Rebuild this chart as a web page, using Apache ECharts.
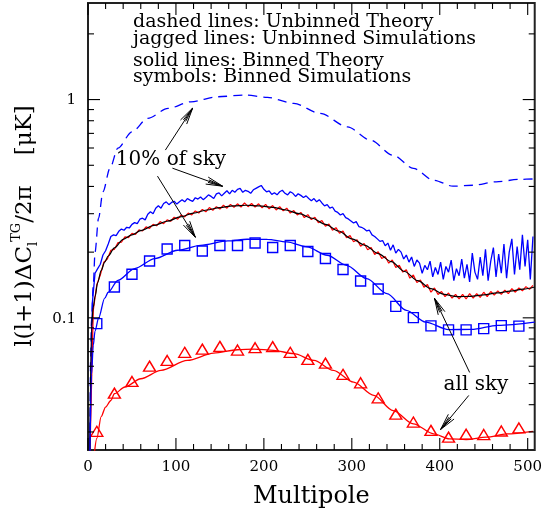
<!DOCTYPE html>
<html>
<head>
<meta charset="utf-8">
<script src="https://cdn.jsdelivr.net/npm/echarts@6/dist/echarts.min.js"></script>
<style>
html, body { margin: 0; padding: 0; background: #fff; }
#chart { width: 545px; height: 514px; }
</style>
</head>
<body>
<div id="chart"></div>
<script>
// ---- axis ranges and ticks ----
const X_MIN = 0, X_MAX = 508;
const Y_MIN = 0.0248, Y_MAX = 2.77;
const xMajorTicks = [0, 100, 200, 300, 400, 500];
const xMinorStep = 20;
const yMajorTicks = [0.1, 1];
const yTickLabels = ['0.1', '1'];
const yMinorTicks = [0.03, 0.04, 0.05, 0.06, 0.07, 0.08, 0.09,
                     0.2, 0.3, 0.4, 0.5, 0.6, 0.7, 0.8, 0.9, 2];

// ---- unbinned theory, 10% of sky (dashed) ----
const dashTheoryL = [2, 3, 4, 6, 8, 12, 17, 25, 34, 50, 68, 91, 117, 147, 178, 204, 234, 264,
                     295, 321, 347, 370, 393, 415, 438, 464, 491, 508];
const dashTheoryY = [0.022, 0.065, 0.099, 0.141, 0.2, 0.286, 0.378, 0.485, 0.599, 0.712, 0.82,
                     0.911, 0.977, 1.03, 1.049, 1.023, 0.961, 0.864, 0.75, 0.652, 0.556, 0.484,
                     0.427, 0.401, 0.405, 0.42, 0.431, 0.433];

// ---- unbinned simulation, 10% of sky (jagged blue), l = 2, 5, 8, ... ----
const blueSimStart = 2, blueSimStep = 3;
const blueSimY = [
  0.022, 0.118, 0.160, 0.168, 0.176, 0.194, 0.203, 0.218, 0.236, 0.240,
  0.238, 0.249, 0.255, 0.252, 0.260, 0.258, 0.268, 0.273, 0.270, 0.283,
  0.286, 0.281, 0.298, 0.306, 0.300, 0.318, 0.326, 0.318, 0.334, 0.340,
  0.330, 0.338, 0.342, 0.332, 0.340, 0.348, 0.340, 0.352, 0.346, 0.342,
  0.355, 0.350, 0.358, 0.348, 0.356, 0.366, 0.360, 0.352, 0.370, 0.374,
  0.362, 0.372, 0.382, 0.370, 0.384, 0.376, 0.388, 0.392, 0.376, 0.384,
  0.380, 0.372, 0.386, 0.392, 0.398, 0.404, 0.388, 0.378, 0.382, 0.368,
  0.374, 0.366, 0.378, 0.384, 0.372, 0.366, 0.378, 0.372, 0.360, 0.370,
  0.364, 0.356, 0.362, 0.352, 0.344, 0.352, 0.340, 0.348, 0.336, 0.326,
  0.330, 0.318, 0.322, 0.308, 0.304, 0.296, 0.300, 0.288, 0.284, 0.278,
  0.272, 0.276, 0.262, 0.260, 0.256, 0.250, 0.252, 0.240, 0.236, 0.230,
  0.224, 0.226, 0.214, 0.220, 0.204, 0.216, 0.198, 0.206, 0.200, 0.186,
  0.194, 0.180, 0.190, 0.172, 0.184, 0.178, 0.160, 0.174, 0.166, 0.182,
  0.154, 0.170, 0.158, 0.180, 0.150, 0.172, 0.162, 0.184, 0.148, 0.168,
  0.156, 0.186, 0.152, 0.176, 0.146, 0.198, 0.162, 0.150, 0.190, 0.156,
  0.206, 0.148, 0.182, 0.210, 0.154, 0.196, 0.160, 0.218, 0.152, 0.200,
  0.230, 0.158, 0.212, 0.166, 0.240, 0.172, 0.228, 0.150, 0.236
];

// ---- unbinned simulation, all sky (jagged red), l = 2, 6, 10, ... ----
const redSimStart = 2, redSimStep = 4;
const redSimY = [
  0.022, 0.108, 0.142, 0.157, 0.180, 0.186, 0.204, 0.206, 0.221, 0.222,
  0.235, 0.233, 0.244, 0.241, 0.253, 0.250, 0.261, 0.257, 0.268, 0.264,
  0.276, 0.270, 0.281, 0.277, 0.289, 0.283, 0.296, 0.290, 0.302, 0.296,
  0.309, 0.302, 0.314, 0.306, 0.320, 0.311, 0.323, 0.315, 0.328, 0.318,
  0.331, 0.321, 0.333, 0.322, 0.336, 0.323, 0.334, 0.322, 0.333, 0.319,
  0.331, 0.316, 0.327, 0.312, 0.323, 0.309, 0.318, 0.302, 0.310, 0.296,
  0.304, 0.288, 0.297, 0.282, 0.289, 0.273, 0.279, 0.263, 0.269, 0.252,
  0.259, 0.244, 0.250, 0.233, 0.238, 0.223, 0.228, 0.213, 0.219, 0.205,
  0.210, 0.195, 0.201, 0.187, 0.191, 0.178, 0.184, 0.170, 0.174, 0.162,
  0.166, 0.152, 0.157, 0.145, 0.149, 0.138, 0.142, 0.131, 0.137, 0.128,
  0.132, 0.125, 0.130, 0.123, 0.128, 0.122, 0.128, 0.122, 0.129, 0.123,
  0.129, 0.124, 0.131, 0.125, 0.132, 0.127, 0.133, 0.128, 0.134, 0.129,
  0.136, 0.131, 0.137, 0.133, 0.139, 0.135, 0.141
];

// ---- unbinned theory, all sky (black) ----
const allTheoryL = [2, 4, 6, 8, 11, 15, 19, 23, 30, 40, 50, 60, 75, 90, 105, 120, 135, 150, 165,
                    180, 195, 210, 225, 240, 255, 270, 285, 300, 315, 330, 345, 360, 375, 390,
                    405, 420, 435, 450, 465, 480, 495, 508];
const allTheoryY = [0.022, 0.092, 0.112, 0.125, 0.145, 0.165, 0.18, 0.192, 0.209, 0.229, 0.24,
                    0.251, 0.265, 0.277, 0.29, 0.302, 0.312, 0.32, 0.326, 0.328, 0.326, 0.321,
                    0.312, 0.30, 0.286, 0.268, 0.25, 0.23, 0.215, 0.197, 0.181, 0.163, 0.148,
                    0.136, 0.128, 0.125, 0.1255, 0.1275, 0.130, 0.1325, 0.1355, 0.1385];

// ---- binned theory (solid) ----
const blueBinTheoryL = [2, 4, 6, 8, 12, 19, 23, 34, 53, 76, 102, 128, 159, 181, 204, 226, 249,
                        272, 294, 317, 340, 362, 384, 410, 436, 466, 508];
const blueBinTheoryY = [0.022, 0.055, 0.075, 0.087, 0.0996, 0.123, 0.131, 0.1486, 0.1681, 0.1869,
                        0.204, 0.215, 0.225, 0.2291, 0.2287, 0.2227, 0.2113, 0.1935, 0.1741,
                        0.1513, 0.1291, 0.1082, 0.0956, 0.0883, 0.0885, 0.0924, 0.0956];
const redBinTheoryL = [7, 10, 15, 20, 26, 30, 42, 60, 83, 113, 143, 170, 189, 211, 234, 257, 279,
                       302, 325, 347, 370, 393, 411, 430, 453, 476, 506];
const redBinTheoryY = [0.0235, 0.028, 0.0353, 0.039, 0.0418, 0.0449, 0.0482, 0.0526, 0.0574,
                       0.0638, 0.0689, 0.0714, 0.0719, 0.0710, 0.0685, 0.0638, 0.0574, 0.0507,
                       0.0441, 0.0376, 0.0327, 0.0294, 0.0279, 0.0277, 0.0284, 0.0294, 0.0302];

// ---- binned simulations (symbols) ----
const binCentres = [10, 30, 50, 70, 90, 110, 130, 150, 170, 190, 210, 230, 250, 270, 290, 310,
                    330, 350, 370, 390, 410, 430, 450, 470, 490];
const blueBinSimY = [0.0941, 0.1384, 0.1583, 0.1822, 0.2068, 0.2144, 0.2025, 0.2144, 0.2144,
                     0.2203, 0.2099, 0.2144, 0.2012, 0.1871, 0.1665, 0.1475, 0.1355, 0.1129,
                     0.1002, 0.0919, 0.0881, 0.0881, 0.0892, 0.0921, 0.0916];
const redBinSimY = [0.0302, 0.0452, 0.0511, 0.0601, 0.0638, 0.0695, 0.0719, 0.0740, 0.0712,
                    0.0730, 0.0738, 0.0695, 0.0645, 0.0620, 0.0551, 0.0504, 0.0430, 0.0362,
                    0.0333, 0.0305, 0.0284, 0.0293, 0.0292, 0.0303, 0.0313];

// ---- annotation arrows: [l_from, y_from, l_to, y_to] ----
const skyArrows = [
  [88, 0.587, 119, 0.914],
  [96, 0.485, 153, 0.401],
  [79, 0.446, 122, 0.234],
  [434, 0.0562, 394, 0.1229],
  [433, 0.0441, 401, 0.0308]
];

const legendLines = [
  'dashed lines: Unbinned Theory',
  'jagged lines: Unbinned Simulations',
  'solid lines: Binned Theory',
  'symbols: Binned Simulations'
];

const SERIF = '"DejaVu Serif", "Liberation Serif", serif';
const BLUE = '#0000ff', RED = '#ff0000';

function pairs(xs, ys) { return xs.map((x, i) => [x, ys[i]]); }
function gridded(start, step, ys) { return ys.map((y, i) => [start + i * step, y]); }

// tick marks drawn on all four sides of the frame
const xTickData = [];
for (let v = X_MIN; v <= 500; v += xMinorStep) {
  xTickData.push([v, 1, xMajorTicks.indexOf(v) >= 0 ? 1 : 0]);
}
const yTickData = yMajorTicks.map(v => [X_MIN, v, 1]).concat(yMinorTicks.map(v => [X_MIN, v, 0]));

function renderXTick(params, api) {
  const cs = params.coordSys;
  const major = api.value(2) === 1;
  const len = major ? 12 : 6;
  const x = api.coord([api.value(0), Y_MIN])[0];
  const b = cs.y + cs.height, t = cs.y;
  const st = { stroke: '#000', lineWidth: 1.1 };
  return { type: 'group', children: [
    { type: 'line', shape: { x1: x, y1: b, x2: x, y2: b - len }, style: st },
    { type: 'line', shape: { x1: x, y1: t, x2: x, y2: t + len }, style: st }
  ]};
}

function renderYTick(params, api) {
  const cs = params.coordSys;
  const val = api.value(1);
  const major = api.value(2) === 1;
  const len = major ? 12 : 6;
  const y = api.coord([X_MIN, val])[1];
  const l = cs.x, r = cs.x + cs.width;
  const st = { stroke: '#000', lineWidth: 1.1 };
  const children = [
    { type: 'line', shape: { x1: l, y1: y, x2: l + len, y2: y }, style: st },
    { type: 'line', shape: { x1: r - len, y1: y, x2: r, y2: y }, style: st }
  ];
  if (major) {
    const idx = yMajorTicks.findIndex(m => Math.abs(m - val) < 1e-9);
    children.push({ type: 'text', x: l - 12, y: y + 1, style: {
      text: yTickLabels[idx], font: '15px ' + SERIF, fill: '#000',
      align: 'right', verticalAlign: 'middle' } });
  }
  return { type: 'group', children };
}

function renderArrow(params, api) {
  const p1 = api.coord([api.value(0), api.value(1)]);
  const p2 = api.coord([api.value(2), api.value(3)]);
  const ang = Math.atan2(p1[1] - p2[1], p1[0] - p2[0]);
  const barb = (a, L) => [p2[0] + L * Math.cos(ang + a), p2[1] + L * Math.sin(ang + a)];
  const st = { stroke: '#000', lineWidth: 1, fill: null };
  return { type: 'group', children: [
    { type: 'line', shape: { x1: p1[0], y1: p1[1], x2: p2[0], y2: p2[1] }, style: st },
    { type: 'polyline', shape: { points: [barb(0.22, 17), p2, barb(-0.22, 17)] }, style: st },
    { type: 'polyline', shape: { points: [barb(0.09, 15), p2, barb(-0.09, 15)] }, style: st }
  ]};
}

const chart = echarts.init(document.getElementById('chart'), null, { renderer: 'canvas' });

const legendGraphics = legendLines.map((t, i) => ({
  type: 'text', x: 133, y: [22, 39, 61, 77.5][i],
  style: { text: t, font: '19px ' + SERIF, fill: '#000', align: 'left', verticalAlign: 'middle' }
}));

chart.setOption({
  animation: false,
  backgroundColor: '#fff',
  grid: { left: 88, right: 8, top: 3, bottom: 64, show: true,
          borderColor: '#222', borderWidth: 2, backgroundColor: 'transparent' },
  xAxis: {
    type: 'value', min: X_MIN, max: X_MAX, interval: 100,
    axisLine: { show: false }, axisTick: { show: false }, splitLine: { show: false },
    axisLabel: { color: '#000', fontFamily: SERIF, fontSize: 15, margin: 10,
                 formatter: v => (v % 100 === 0 ? String(v) : '') },
    name: 'Multipole', nameLocation: 'middle', nameGap: 35,
    nameTextStyle: { color: '#000', fontFamily: SERIF, fontSize: 24 }
  },
  yAxis: {
    type: 'log', logBase: 10, min: Y_MIN, max: Y_MAX,
    axisLine: { show: false }, axisTick: { show: false }, splitLine: { show: false },
    axisLabel: { show: false }
  },
  graphic: legendGraphics.concat([
    { type: 'text', x: 171, y: 160,
      style: { text: '10% of sky', font: '20px ' + SERIF, fill: '#000', align: 'center', verticalAlign: 'middle' } },
    { type: 'text', x: 476, y: 385,
      style: { text: 'all sky', font: '20px ' + SERIF, fill: '#000', align: 'center', verticalAlign: 'middle' } },
    { type: 'text', x: 25, y: 226, rotation: Math.PI / 2,
      style: {
        text: '{n|l(l+1)ΔC}{sub|l}{sup|TG}{n|/2π}{gap|}{n|[μK]}',
        align: 'center', verticalAlign: 'middle', fill: '#000',
        rich: {
          n: { fontFamily: SERIF, fontSize: 23, lineHeight: 30, fill: '#000' },
          sub: { fontFamily: SERIF, fontSize: 13, lineHeight: 30, verticalAlign: 'bottom', fill: '#000' },
          sup: { fontFamily: SERIF, fontSize: 13, lineHeight: 30, verticalAlign: 'top', fill: '#000' },
          gap: { width: 30, lineHeight: 30 }
        }
      } }
  ]),
  series: [
    { name: 'Unbinned theory, 10% of sky', type: 'line', data: pairs(dashTheoryL, dashTheoryY),
      showSymbol: false, smooth: 0.3, smoothMonotone: 'x',
      lineStyle: { color: BLUE, width: 1.3, type: [9, 6] } },
    { name: 'Unbinned simulation, 10% of sky', type: 'line', data: gridded(blueSimStart, blueSimStep, blueSimY),
      showSymbol: false, lineStyle: { color: BLUE, width: 1.3 } },
    { name: 'Unbinned simulation, all sky', type: 'line', data: gridded(redSimStart, redSimStep, redSimY),
      showSymbol: false, lineStyle: { color: RED, width: 1.2 } },
    { name: 'Unbinned theory, all sky', type: 'line', data: pairs(allTheoryL, allTheoryY),
      showSymbol: false, smooth: 0.3, smoothMonotone: 'x', lineStyle: { color: '#000', width: 1.2 } },
    { name: 'Binned theory, 10% of sky', type: 'line', data: pairs(blueBinTheoryL, blueBinTheoryY),
      showSymbol: false, smooth: 0.3, smoothMonotone: 'x', lineStyle: { color: BLUE, width: 1.3 } },
    { name: 'Binned theory, all sky', type: 'line', data: pairs(redBinTheoryL, redBinTheoryY),
      showSymbol: false, smooth: 0.3, smoothMonotone: 'x', lineStyle: { color: RED, width: 1.3 } },
    { name: 'Binned simulation, 10% of sky', type: 'scatter', data: pairs(binCentres, blueBinSimY),
      symbol: 'rect', symbolSize: 10,
      itemStyle: { color: '#fff', borderColor: BLUE, borderWidth: 1.4, opacity: 1 } },
    { name: 'Binned simulation, all sky', type: 'scatter', data: pairs(binCentres, redBinSimY),
      symbol: 'triangle', symbolSize: [12, 10],
      itemStyle: { color: '#fff', borderColor: RED, borderWidth: 1.4, opacity: 1 } },
    { name: 'arrows', type: 'custom', data: skyArrows, renderItem: renderArrow, clip: false,
      encode: { x: [0, 2], y: [1, 3] }, silent: true, z: 5 },
    { name: 'x ticks', type: 'custom', data: xTickData, renderItem: renderXTick, clip: false,
      encode: { x: 0, y: 1 }, silent: true, z: 6 },
    { name: 'y ticks', type: 'custom', data: yTickData, renderItem: renderYTick, clip: false,
      encode: { x: 0, y: 1 }, silent: true, z: 6 }
  ]
});
</script>
</body>
</html>
